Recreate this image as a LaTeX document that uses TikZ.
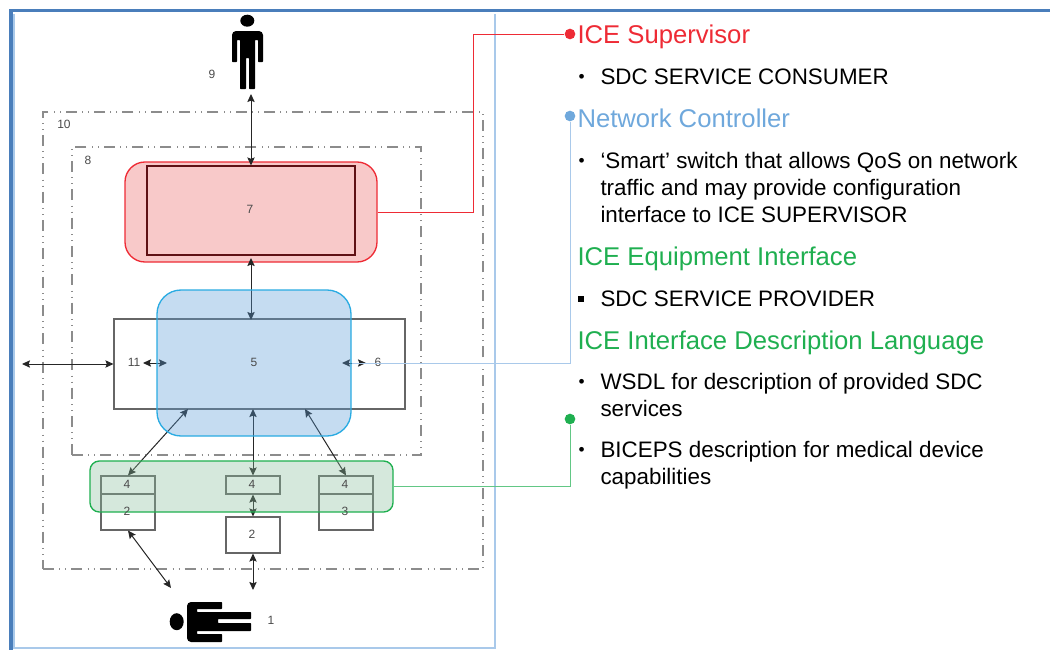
\documentclass[tikz,border=0pt]{standalone}
\usepackage{fontspec}
\setmainfont{Liberation Sans}
\usetikzlibrary{arrows.meta}

\definecolor{framecol}{HTML}{4A7EBB}
\definecolor{paleframe}{HTML}{A9C9EA}
\definecolor{supred}{HTML}{EE2B35}
\definecolor{supfill}{HTML}{F8C9C9}
\definecolor{netblue}{HTML}{6FA8DC}
\definecolor{ctrlline}{HTML}{29ABE2}
\definecolor{ctrlfill}{HTML}{599BD7}
\definecolor{icegreen}{HTML}{1FAF50}
\definecolor{idlfill}{HTML}{87BD9B}
\definecolor{labelgray}{HTML}{4A4A4A}

\begin{document}
\begin{tikzpicture}[
            x = 0.75pt, % one unit is one pixel of the reference
            y = -0.75pt,
            > = {Stealth[length = 6pt, width = 5.5pt, inset = 1pt]}, % arrow head style
            line width = 0.75pt
        ]

        \tikzstyle{zone}=[
            draw = black!45,
            line width = 1pt,
            dash pattern = on 8.25pt off 4pt on 0.5pt off 4pt on 0.5pt off 4pt,
            inner sep = 0pt
        ]
        \tikzstyle{unit}=[
            draw = black!60,
            line width = 0.8pt,
            inner sep = 0pt
        ]
        \tikzstyle{number}=[
            inner sep = 0pt,
            font = \fontsize{9pt}{10pt}\selectfont,
            text = labelgray
        ]
        \tikzstyle{heading}=[
            anchor = base west,
            inner sep = 0pt,
            font = \fontsize{19.25pt}{22pt}\selectfont
        ]
        \tikzstyle{item}=[
            anchor = base west,
            inner sep = 0pt,
            align = left,
            font = \fontsize{16.8pt}{20pt}\selectfont
        ]
        \tikzstyle{bulletmark}=[
            anchor = base west,
            inner sep = 0pt,
            font = \fontsize{13pt}{14pt}\selectfont
        ]
        \tikzstyle{link}=[line width = 0.75pt]
        \tikzstyle{dot}=[circle, inner sep = 0pt, minimum size = 8pt]
        \tikzstyle{arrow}=[<->, black!85]

        \useasboundingbox (0,0) rectangle (1050,650);

        % slide frame
        \draw[paleframe, line width = 1.5pt] (14,14) -- (14,648) -- (495,648) -- (495,14);
        \draw[framecol, line width = 2.25pt] (1050,10.5) -- (11,10.5);
        \draw[framecol, line width = 3pt] (11,9) -- (11,650);

        % nested zones
        \node[zone, minimum width = 330pt, minimum height = 342.75pt] (outerzone) at (263,340.5) {};
        \node[zone, minimum width = 261.75pt, minimum height = 231pt] (innerzone) at (246.5,301) {};
        \node[number] (label10) at (64,124) {10};
        \node[number] (label8) at (88,160) {8};

        % supervisor
        \node[draw = supred, fill = supfill, line width = 1pt, rounded corners = 15pt, minimum width = 189pt, minimum height = 75pt] (supervisor) at (251,212) {};
        \node[unit, draw = black!60!supred] (unit7) [minimum width = 156pt, minimum height = 66.75pt] at (251,210.5) {};

        % switch and equipment units, under the tinted boxes
        \node[unit, minimum width = 218.25pt, minimum height = 67.5pt] (switch) at (259.5,364) {};
        \node[unit, minimum width = 40.5pt, minimum height = 13.5pt] (port1) at (128,485) {};
        \node[unit, minimum width = 40.5pt, minimum height = 27pt] (dev1) at (128,512) {};
        \node[unit, minimum width = 40.5pt, minimum height = 13.5pt] (port2) at (253,485) {};
        \node[unit, minimum width = 40.5pt, minimum height = 27pt] (dev2) at (253,535) {};
        \node[unit, minimum width = 40.5pt, minimum height = 13.5pt] (port3) at (346,485) {};
        \node[unit, minimum width = 40.5pt, minimum height = 27pt] (dev3) at (346,512) {};

        % the two people
        \fill (247.3,20.7) ellipse (7 and 6);
        \fill[rounded corners = 0.5pt] (232,62) [rounded corners = 3pt] -- (232,31) -- (263,31) [rounded corners = 0.5pt] -- (263,62) -- (258,62) -- (258,40) -- (255,40) -- (255,89) -- (249,89) -- (249,58) -- (246,58) -- (246,89) -- (240,89) -- (240,40) -- (237,40) -- (237,62) -- cycle;
        \node[number] (label9) at (212,74) {9};

        \fill (176.7,621.7) ellipse (7 and 8.5);
        \fill[rounded corners = 0.5pt] (222,602) [rounded corners = 3pt] -- (187,602) -- (187,642) [rounded corners = 0.5pt] -- (222,642) -- (222,634) -- (197,634) -- (197,631) -- (251,631) -- (251,623) -- (218,623) -- (218,619) -- (251,619) -- (251,612) -- (197,612) -- (197,609) -- (222,609) -- cycle;
        \node[number] (label1) at (271,620) {1};

        % free arrow ends
        \coordinate (above) at (251,94);
        \coordinate (ctrltop) at (251,320);
        \coordinate (unit7low) at (251,258);
        \coordinate (west) at (22,364);
        \coordinate (l11) at (143,363);
        \coordinate (r11) at (167,363);
        \coordinate (l6) at (342,363);
        \coordinate (r6) at (366,363);
        \coordinate (ctrlleft) at (188,409);
        \coordinate (ctrlmid) at (253,409);
        \coordinate (ctrlright) at (305,409);
        \coordinate (patient1) at (171,588);
        \coordinate (patient2) at (253,590);

        \path[arrow] (above) edge node {} (unit7.north);
        \path[arrow] (unit7low) edge node {} (ctrltop);
        \path[arrow] (west) edge node {} (switch.west);
        \path[arrow] (l11) edge node {} (r11);
        \path[arrow] (l6) edge node {} (r6);
        \path[arrow] (ctrlleft) edge node {} (port1.north);
        \path[arrow] (ctrlmid) edge node {} (port2.north);
        \path[arrow] (ctrlright) edge node {} (port3.north);
        \path[arrow] (port2.south) edge node {} (dev2.north);
        \path[arrow] (dev1.south) edge node {} (patient1);
        \path[arrow] (dev2.south) edge node {} (patient2);

        % tinted boxes
        \node[draw = ctrlline, fill = ctrlfill, line width = 1pt, fill opacity = 0.35, draw opacity = 1, rounded corners = 18pt, minimum width = 145.5pt, minimum height = 109.5pt] (controller) at (254,363) {};
        \node[draw = icegreen, fill = idlfill, line width = 1pt, fill opacity = 0.35, draw opacity = 1, rounded corners = 7pt, minimum width = 227.25pt, minimum height = 38.25pt] (idl) at (241.5,486.5) {};

        % numbers
        \node[number] (label7) at (250,209) {7};
        \node[number] (label11) at (134,362) {11};
        \node[number] (label5) at (254,362) {5};
        \node[number] (label6) at (378,362) {6};
        \node[number] (label4a) at (127,484) {4};
        \node[number] (label2a) at (127,511) {2};
        \node[number] (label4b) at (252,484) {4};
        \node[number] (label2b) at (252,534) {2};
        \node[number] (label4c) at (345,484) {4};
        \node[number] (label3) at (345,511) {3};

        % text column
        \node[heading, text = supred] (supervisortitle) at (577,43) {ICE Supervisor};
        \node[bulletmark] (b1) at (578,82.5) {•};
        \node[item] (t1) at (600,84) {SDC SERVICE CONSUMER};
        \node[heading, text = netblue] (nettitle) at (577,127) {Network Controller};
        \node[bulletmark] (b2) at (578,166.5) {•};
        \node[item, anchor = north west] (t2) at (600,152) {‘Smart’ switch that allows QoS on network\\traffic and may provide configuration\\interface to ICE SUPERVISOR};
        \node[heading, text = icegreen] (equiptitle) at (577,265) {ICE Equipment Interface};
        \node[draw = black, fill = black, inner sep = 0pt, minimum size = 4pt] (b3) at (581,299) {};
        \node[item] (t3) at (600,306) {SDC SERVICE PROVIDER};
        \node[heading, text = icegreen] (idltitle) at (577,349) {ICE Interface Description Language};
        \node[bulletmark] (b4) at (578,387.5) {•};
        \node[item, anchor = north west] (t4) at (600,373) {WSDL for description of provided SDC\\services};
        \node[bulletmark] (b5) at (578,455.5) {•};
        \node[item, anchor = north west] (t5) at (600,441) {BICEPS description for medical device\\capabilities};

        % callout dots and their lines
        \node[dot, fill = supred] (dotred) at (570,34) {};
        \node[dot, fill = netblue] (dotblue) at (570,116) {};
        \node[dot, fill = icegreen] (dotgreen) at (570,419) {};
        \draw[link, supred] (supervisor.east) -| (473,34) -- (dotred);
        \draw[link, paleframe] (controller.east) -| (dotblue);
        \draw[link, icegreen!70] (idl.east) -| (dotgreen);

\end{tikzpicture}
\end{document}
